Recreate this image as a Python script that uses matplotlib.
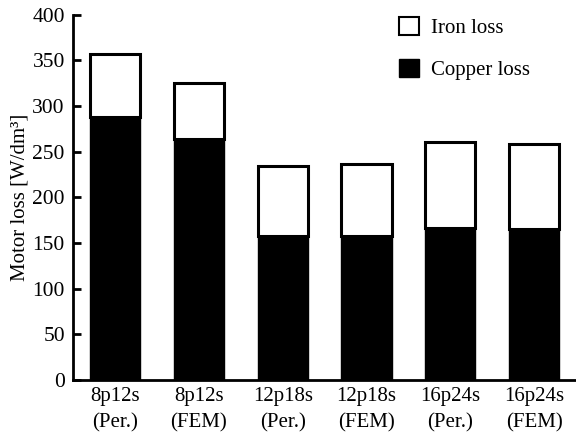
import matplotlib
matplotlib.use('Agg')
import matplotlib.pyplot as plt
from matplotlib.patches import Patch

plt.rcParams['font.family'] = ['Liberation Serif', 'DejaVu Serif']

# motor designs and loss values [W/dm^3]
designs = ['8p12s\n(Per.)', '8p12s\n(FEM)', '12p18s\n(Per.)',
           '12p18s\n(FEM)', '16p24s\n(Per.)', '16p24s\n(FEM)']
copper_loss = [288, 264, 158, 158, 167, 165]
iron_loss = [69, 61, 76, 79, 94, 94]

fig = plt.figure(figsize=(5.76, 4.32), dpi=100)
ax = fig.add_axes([0.127, 0.12, 0.873, 0.846])

x = range(len(designs))
ax.bar(x, copper_loss, width=0.6, color='black', edgecolor='black', linewidth=1)
ax.bar(x, iron_loss, width=0.6, bottom=copper_loss, color='white',
       edgecolor='black', linewidth=2.2)

ax.set_xlim(-0.5, 5.5)
ax.set_ylim(0, 400)
ax.set_yticks(range(0, 401, 50))
ax.set_xticks(list(x))
ax.set_xticklabels(designs, fontsize=15, linespacing=1.5)
ax.tick_params(axis='x', length=0, pad=5)
ax.tick_params(axis='y', direction='in', length=6, width=2, labelsize=15.5, pad=6)
ax.set_ylabel('Motor loss [W/dm³]', fontsize=15, labelpad=2)

for side in ['top', 'right']:
    ax.spines[side].set_visible(False)
for side in ['left', 'bottom']:
    ax.spines[side].set_linewidth(2)

handles = [Patch(facecolor='white', edgecolor='black', linewidth=1.5, label='Iron loss'),
           Patch(facecolor='black', edgecolor='black', label='Copper loss')]
ax.legend(handles=handles, loc='upper left', bbox_to_anchor=(0.623, 1.028),
          frameon=False, fontsize=15, handlelength=0.95, handleheight=0.95,
          labelspacing=1.0, handletextpad=0.6, borderaxespad=0.2)

plt.savefig('out.png', dpi=100)
